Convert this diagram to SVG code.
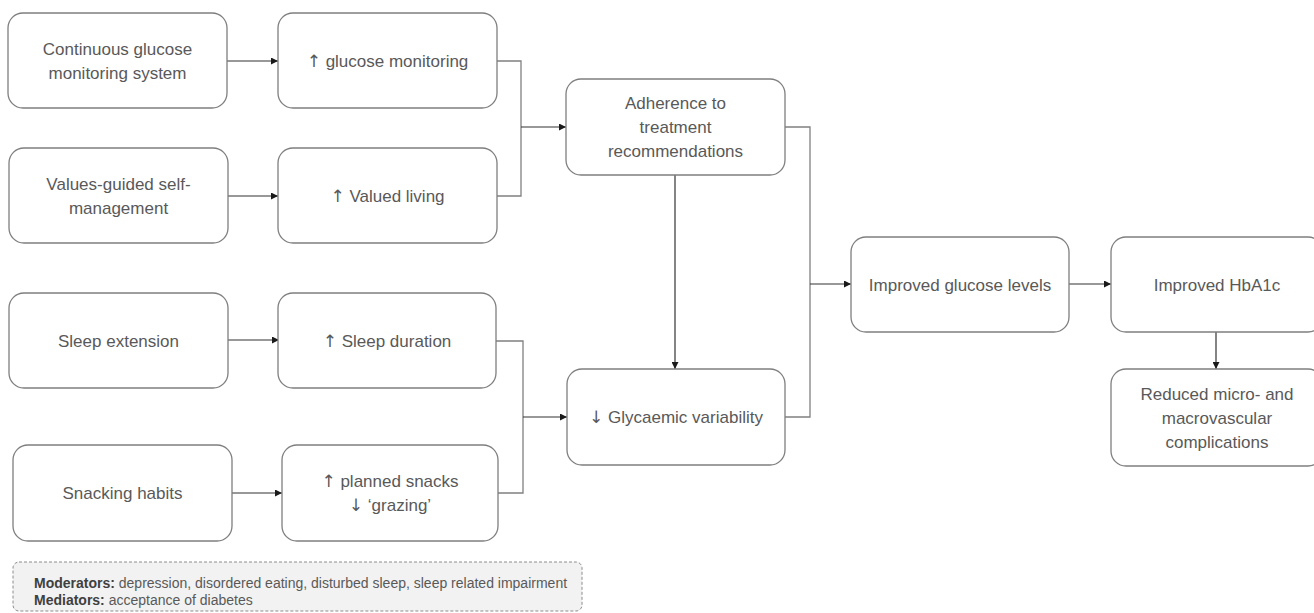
<svg xmlns="http://www.w3.org/2000/svg" width="1314" height="613" viewBox="0 0 1314 613">
<defs>
<marker id="arr" viewBox="0 0 10 10" refX="10" refY="5" markerWidth="8" markerHeight="7" markerUnits="userSpaceOnUse" orient="auto">
<path d="M0,0 L10,5 L0,10 z" fill="#1a1a1a"/>
</marker>
<style>
.box{fill:#ffffff;stroke:#7f7f7f;stroke-width:1.3}
.t{font-family:"Liberation Sans",Arial,sans-serif;font-size:17px;fill:#595959;text-anchor:middle}
.a{font-family:"DejaVu Sans",sans-serif;font-weight:normal}
.ln{fill:none;stroke:#808080;stroke-width:1.3}
.ar{fill:none;stroke:#333333;stroke-width:1.2;marker-end:url(#arr)}
.note{fill:#f2f2f2;stroke:#8c8c8c;stroke-width:1;stroke-dasharray:3,2}
.n{font-family:"Liberation Sans",Arial,sans-serif;font-size:14px;fill:#595959}
.nb{font-weight:bold;fill:#404040}
</style>
</defs>
<rect width="1314" height="613" fill="#ffffff"/>

<g id="connectors">
<path class="ar" d="M227,61 H278"/>
<path class="ar" d="M228,196 H278"/>
<path class="ar" d="M228,340 H279"/>
<path class="ar" d="M232,493 H282"/>
<path class="ln" d="M497,61 H521 V196 H497"/>
<path class="ar" d="M521,127 H566"/>
<path class="ln" d="M496,341 H523 V493 H498"/>
<path class="ar" d="M523,417 H567"/>
<path class="ar" d="M675,175 V369"/>
<path class="ln" d="M785,127 H810 V417 H785"/>
<path class="ar" d="M810,284 H851"/>
<path class="ar" d="M1069,284 H1111"/>
<path class="ar" d="M1216,332 V369"/>
</g>

<g id="node-cgm">
<rect class="box" x="8" y="13" width="219" height="95" rx="15"/>
<text class="t" x="117.5" y="54.5">Continuous glucose</text>
<text class="t" x="117.5" y="78.5">monitoring system</text>
</g>
<g id="node-glucose-monitoring">
<rect class="box" x="278" y="13" width="219" height="95" rx="15"/>
<text class="t" x="387.5" y="66.5"><tspan class="a">↑</tspan> glucose monitoring</text>
</g>
<g id="node-values">
<rect class="box" x="9" y="148" width="219" height="95" rx="15"/>
<text class="t" x="118.5" y="189.5">Values-guided self-</text>
<text class="t" x="118.5" y="213.5">management</text>
</g>
<g id="node-valued-living">
<rect class="box" x="278" y="148" width="219" height="95" rx="15"/>
<text class="t" x="387.5" y="201.5"><tspan class="a">↑</tspan> Valued living</text>
</g>
<g id="node-sleep-ext">
<rect class="box" x="9" y="293" width="219" height="95" rx="15"/>
<text class="t" x="118.5" y="346.5">Sleep extension</text>
</g>
<g id="node-sleep-dur">
<rect class="box" x="278" y="293" width="218" height="95" rx="15"/>
<text class="t" x="387" y="346.5"><tspan class="a">↑</tspan> Sleep duration</text>
</g>
<g id="node-snacking">
<rect class="box" x="13" y="445" width="219" height="96" rx="15"/>
<text class="t" x="122.5" y="499">Snacking habits</text>
</g>
<g id="node-planned">
<rect class="box" x="282" y="445" width="216" height="96" rx="15"/>
<text class="t" x="390" y="487"><tspan class="a">↑</tspan> planned snacks</text>
<text class="t" x="390" y="511"><tspan class="a">↓</tspan> ‘grazing’</text>
</g>
<g id="node-adherence">
<rect class="box" x="566" y="79" width="219" height="96" rx="15"/>
<text class="t" x="675.5" y="109">Adherence to</text>
<text class="t" x="675.5" y="133">treatment</text>
<text class="t" x="675.5" y="157">recommendations</text>
</g>
<g id="node-glycaemic">
<rect class="box" x="567" y="369" width="218" height="96" rx="15"/>
<text class="t" x="676" y="423"><tspan class="a">↓</tspan> Glycaemic variability</text>
</g>
<g id="node-glucose-levels">
<rect class="box" x="851" y="237" width="218" height="95" rx="15"/>
<text class="t" x="960" y="290.5">Improved glucose levels</text>
</g>
<g id="node-hba1c">
<rect class="box" x="1111" y="237" width="212" height="95" rx="15"/>
<text class="t" x="1217" y="290.5">Improved HbA1c</text>
</g>
<g id="node-complications">
<rect class="box" x="1111" y="369" width="212" height="97" rx="15"/>
<text class="t" x="1217" y="399.5">Reduced micro- and</text>
<text class="t" x="1217" y="423.5">macrovascular</text>
<text class="t" x="1217" y="447.5">complications</text>
</g>

<g id="note">
<rect class="note" x="13" y="562" width="569" height="49" rx="6"/>
<text class="n" x="34" y="588"><tspan class="nb">Moderators:</tspan> depression, disordered eating, disturbed sleep, sleep related impairment</text>
<text class="n" x="34" y="605"><tspan class="nb">Mediators:</tspan> acceptance of diabetes</text>
</g>
</svg>
